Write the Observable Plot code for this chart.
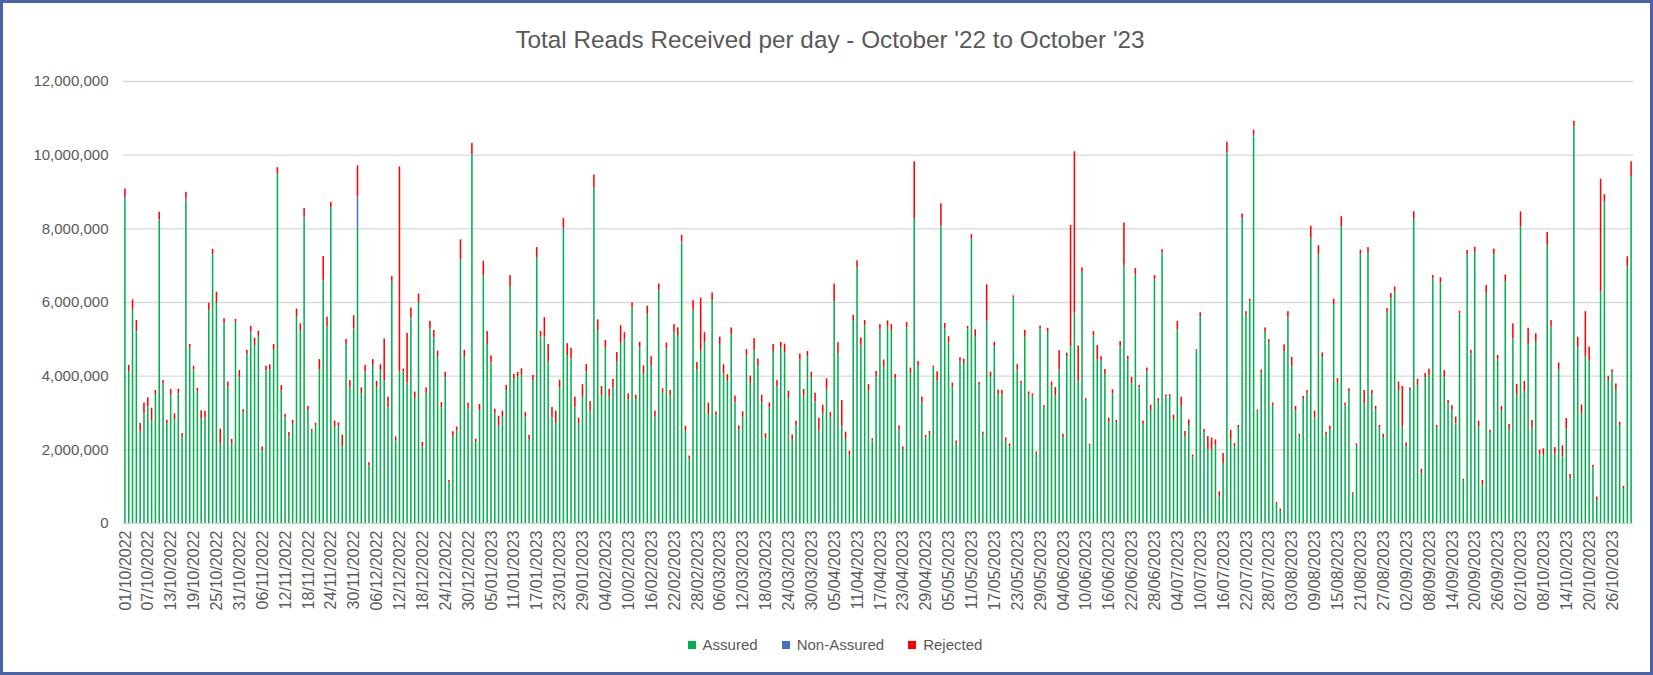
<!DOCTYPE html>
<html>
<head>
<meta charset="utf-8">
<script src="https://cdn.jsdelivr.net/npm/d3@7"></script>
<script src="https://cdn.jsdelivr.net/npm/@observablehq/plot@0.6"></script>
<style>
  html, body { margin: 0; padding: 0; background: #fff; }
  #frame { position: relative; width: 1653px; height: 675px; overflow: hidden; background: #fff;
           font-family: "Liberation Sans", Arial, sans-serif; color: #595959; }
  #title { position: absolute; top: 25px; left: 0; width: 1660px; text-align: center; font-size: 24.3px; line-height: 30px; }
  #chart { position: absolute; top: 60px; left: 0; }
  #legend { position: absolute; top: 636px; left: 0; width: 1670px; display: flex; justify-content: center; gap: 24px; font-size: 15px; line-height: 18px; }
  .item { display: flex; align-items: center; gap: 7px; }
  .sw { width: 8px; height: 8px; display: inline-block; }
  #border { position: absolute; inset: 0; border: 3px solid #4B62A9; pointer-events: none; }
</style>
</head>
<body>
<div id="frame">
  <div id="title">Total Reads Received per day - October '22 to October '23</div>
  <div id="chart"></div>
  <div id="legend"></div>
  <div id="border"></div>
</div>
<script>
// Series names and colours
const seriesNames = ["Assured", "Non-Assured", "Rejected"];
const seriesColors = ["#00B050", "#4472C4", "#FF0000"];

// Daily categories: 01/10/2022 .. 31/10/2023
const firstDay = new Date(Date.UTC(2022, 9, 1));
const endDay = new Date(Date.UTC(2023, 10, 1));
const fmtDay = d3.utcFormat("%d/%m/%Y");
const categories = d3.utcDay.range(firstDay, endDay).map(fmtDay);
// Tick labels: every 6th day
const tickLabels = categories.filter((d, i) => i % 6 === 0);
// Y ticks
const yTicks = [0, 2e6, 4e6, 6e6, 8e6, 10e6, 12e6];

// Values in millions of reads
const assured = [
8.80,4.11,5.80,5.17,2.48,2.98,3.16,2.78,3.50,8.22,
3.79,2.71,3.48,2.82,3.52,2.33,8.74,4.77,4.17,3.57,
2.83,2.87,5.78,7.30,5.98,2.15,5.42,3.70,2.15,5.46,
3.97,3.00,4.59,5.15,4.83,5.08,1.97,4.15,4.17,4.70,
9.48,3.59,2.87,2.35,2.69,5.60,5.22,8.24,3.05,2.48,
2.66,4.17,6.59,5.33,8.58,2.60,2.64,2.08,4.86,3.68,
5.28,7.99,3.52,4.11,1.56,4.29,3.68,4.15,3.88,3.14,
6.57,2.24,4.11,4.11,3.81,5.53,3.39,6.00,2.08,3.52,
5.28,5.04,4.52,3.14,3.96,1.11,2.35,2.51,7.15,4.50,
3.12,10.01,2.19,3.07,6.73,4.86,4.36,2.98,2.64,2.89,
3.61,6.41,3.91,3.99,4.02,2.89,2.28,3.88,7.22,5.06,
5.06,4.38,2.86,2.71,3.68,7.96,4.56,4.47,3.14,2.71,
3.43,4.11,3.05,9.10,5.24,3.46,4.76,3.43,3.68,4.38,
4.88,5.00,3.36,5.85,3.36,4.77,4.05,5.67,4.27,2.89,
6.32,3.54,4.74,3.46,5.19,5.08,7.59,2.50,1.74,5.78,
4.18,4.68,4.92,2.96,6.05,2.93,4.86,4.06,3.86,5.13,
3.28,2.53,2.89,4.56,3.79,4.70,4.26,3.28,2.30,3.14,
4.67,3.72,4.76,4.63,3.39,2.26,2.64,4.44,3.45,4.53,
3.96,3.30,2.51,2.98,3.63,2.87,6.02,4.61,2.62,2.28,
1.85,5.51,6.95,4.82,5.37,3.59,2.24,3.99,5.26,4.24,
5.35,5.24,3.93,2.53,1.99,5.31,4.06,8.28,4.26,3.28,
2.32,2.42,4.22,3.88,8.08,5.28,4.90,3.70,2.15,4.40,
4.32,5.28,7.68,5.07,3.77,2.42,5.49,3.99,4.80,3.48,
3.50,2.23,2.09,6.12,4.17,3.79,5.06,3.48,3.46,1.88,
5.28,3.14,5.19,3.73,3.46,4.17,2.33,4.53,4.79,5.71,
3.84,6.82,3.34,2.10,5.09,4.44,4.42,4.05,2.75,3.52,
2.74,4.80,7.00,4.44,3.79,6.75,3.68,2.69,4.11,3.07,
6.61,3.30,7.29,3.43,3.45,2.80,5.26,3.18,2.35,2.66,
1.81,4.65,5.62,2.47,2.01,1.99,2.12,0.72,1.63,10.01,
2.28,2.08,2.59,8.28,5.64,6.02,10.49,3.03,4.09,5.19,
4.90,3.19,0.52,0.32,4.67,5.58,4.27,3.05,2.35,3.36,
3.52,7.75,2.87,7.30,4.50,2.39,2.53,5.94,3.81,8.06,
3.19,3.57,0.77,2.10,7.31,3.25,7.33,3.50,3.09,2.59,
2.33,5.73,6.10,6.28,3.61,2.62,2.09,3.61,8.26,3.75,
1.35,3.96,4.02,6.64,2.59,6.53,3.97,3.25,3.05,2.71,
5.69,1.15,7.30,4.61,7.36,2.62,1.02,6.25,2.47,7.30,
4.44,3.05,6.57,2.53,5.01,3.48,8.05,3.58,4.86,2.56,
4.92,1.88,1.85,7.54,5.33,1.88,4.18,1.81,2.56,1.22,
10.76,4.77,2.98,4.53,4.40,1.51,0.63,6.28,8.69,3.86,
4.08,3.61,2.66,0.95,6.97,9.42
];

const nonAssured = [
0.05,0,0,0.04,0,0,0,0,0,0.03,
0,0,0,0,0,0,0.07,0,0,0,
0,0,0,0,0,0,0,0,0,0,
0,0,0,0.05,0,0,0,0,0,0,
0,0,0,0,0,0,0,0.09,0,0,
0,0,0,0,0,0,0,0,0,0,
0,0.88,0,0,0,0,0,0,0,0,
0,0,0,0,0,0.05,0,0,0,0,
0,0,0,0,0,0,0,0,0,0,
0,0,0,0,0,0,0,0,0,0,
0,0,0,0,0,0,0,0,0,0,
0,0,0,0,0,0.05,0,0,0,0,
0,0,0,0,0,0,0,0,0,0,
0,0,0,0,0,0,0,0,0,0,
0,0,0,0,0,0,0.05,0,0,0,
0,0,0,0,0,0,0,0,0,0,
0,0,0,0,0,0,0,0,0,0,
0,0,0,0,0,0,0,0,0,0,
0,0,0,0,0,0,0,0,0,0,
0,0,0,0,0,0,0,0,0,0,
0,0,0,0,0,0,0,0,0,0,
0,0,0,0,0,0,0,0,0,0,
0,0,0.05,0,0,0,0,0,0,0,
0,0,0,0,0,0,0,0,0,0,
0,0,0,0,0,0,0,0,0,0,
0,0,0,0,0,0,0,0,0,0,
0,0,0,0,0,0,0,0,0,0,
0,0,0.05,0,0,0,0,0,0,0,
0,0.05,0,0,0,0,0,0,0,0.05,
0,0,0,0,0,0,0.05,0,0,0,
0,0,0,0,0,0,0,0,0,0,
0,0,0,0,0,0,0,0,0,0,
0,0,0,0,0,0,0,0,0,0,
0,0,0,0,0,0,0,0,0,0,
0,0,0,0,0,0,0,0,0,0,
0,0,0,0,0,0,0,0,0,0,
0,0,0,0,0,0,0,0,0,0,
0,0,0,0,0,0,0,0,0,0,
0,0,0,0,0,0,0,0,0.05,0,
0,0,0,0,0,0
];

const rejected = [
0.23,0.18,0.27,0.30,0.24,0.29,0.25,0.35,0.11,0.20,
0.09,0.09,0.16,0.16,0.12,0.11,0.18,0.09,0.10,0.10,
0.23,0.18,0.20,0.14,0.30,0.41,0.14,0.14,0.13,0.08,
0.18,0.09,0.11,0.15,0.20,0.14,0.11,0.12,0.14,0.16,
0.18,0.15,0.09,0.12,0.11,0.22,0.20,0.22,0.13,0.07,
0.06,0.28,0.66,0.27,0.14,0.18,0.09,0.32,0.14,0.20,
0.36,0.84,0.16,0.18,0.09,0.16,0.18,0.16,1.13,0.29,
0.13,0.11,5.57,0.08,1.35,0.27,0.18,0.23,0.12,0.16,
0.21,0.20,0.16,0.14,0.14,0.06,0.14,0.11,0.55,0.20,
0.15,0.31,0.10,0.16,0.39,0.35,0.19,0.12,0.27,0.16,
0.14,0.32,0.14,0.11,0.18,0.12,0.11,0.14,0.27,0.15,
0.53,0.48,0.29,0.34,0.21,0.27,0.32,0.29,0.29,0.15,
0.34,0.21,0.26,0.36,0.29,0.26,0.21,0.21,0.23,0.26,
0.49,0.18,0.16,0.14,0.12,0.15,0.23,0.23,0.26,0.16,
0.18,0.12,0.16,0.15,0.21,0.23,0.18,0.14,0.09,0.27,
0.19,1.44,0.26,0.31,0.21,0.10,0.20,0.25,0.18,0.18,
0.18,0.12,0.14,0.16,0.21,0.32,0.21,0.20,0.14,0.13,
0.19,0.16,0.16,0.24,0.20,0.14,0.14,0.16,0.19,0.14,
0.14,0.24,0.35,0.23,0.30,0.14,0.48,0.30,0.72,0.20,
0.11,0.14,0.18,0.22,0.14,0.18,0.06,0.14,0.14,0.20,
0.15,0.16,0.12,0.12,0.09,0.15,0.16,1.54,0.14,0.15,
0.07,0.08,0.05,0.24,0.60,0.15,0.17,0.11,0.09,0.10,
0.14,0.07,0.11,0.19,0.06,0.06,0.99,0.12,0.12,0.14,
0.11,0.09,0.07,0.06,0.14,0.07,0.18,0.09,0.06,0.06,
0.08,0.06,0.11,0.11,0.23,0.52,0.09,0.09,3.30,4.38,
0.98,0.12,0.05,0.05,0.12,0.39,0.11,0.13,0.11,0.11,
0.06,0.14,1.16,0.10,0.18,0.17,0.07,0.09,0.11,0.14,
0.12,0.09,0.09,0.06,0.05,0.14,0.23,0.25,0.15,0.15,
0.05,0.02,0.10,0.08,0.35,0.33,0.15,0.14,0.27,0.29,
0.25,0.09,0.07,0.12,0.11,0.07,0.14,0.05,0.08,0.12,
0.09,0.08,0.05,0.07,0.18,0.17,0.24,0.13,0.07,0.09,
0.09,0.32,0.18,0.24,0.13,0.09,0.11,0.15,0.12,0.27,
0.08,0.09,0.06,0.06,0.11,0.36,0.16,0.11,0.09,0.07,
0.09,0.11,0.14,0.14,0.23,1.10,0.10,0.07,0.20,0.16,
0.12,0.11,0.17,0.09,0.07,0.14,0.18,0.09,0.15,0.18,
0.07,0.05,0.11,0.09,0.14,0.16,0.15,0.21,0.06,0.15,
0.12,0.13,0.18,0.16,0.41,0.30,0.41,0.28,0.44,0.24,
0.23,0.11,0.18,0.36,0.18,0.18,0.18,0.30,0.29,0.11,
0.16,0.29,0.24,1.22,0.39,0.07,0.09,3.07,0.19,0.14,
0.09,0.18,0.09,0.06,0.27,0.40
];

// Long table for stacking
const seriesValues = [assured, nonAssured, rejected];
const table = [];
categories.forEach((date, i) => {
  seriesNames.forEach((s, k) => {
    table.push({date, series: s, value: (seriesValues[k][i] || 0) * 1e6});
  });
});

const chart = Plot.plot({
  width: 1653,
  height: 570,
  marginTop: 21,
  marginBottom: 107,
  marginLeft: 123,
  marginRight: 20,
  style: {fontFamily: "'Liberation Sans', Arial, sans-serif", color: "#595959", background: "transparent", overflow: "visible"},
  x: {type: "band", domain: categories, paddingInner: 0.6, paddingOuter: 0.3, axis: null, label: null},
  y: {domain: [0, 12e6], axis: null, label: null},
  color: {domain: seriesNames, range: seriesColors},
  marks: [
    Plot.gridY(yTicks, {stroke: "#D9D9D9", strokeOpacity: 1, strokeWidth: 1.3}),
    Plot.barY(table, {x: "date", y: "value", fill: "series", order: seriesNames}),
    Plot.axisY(yTicks, {tickSize: 0, tickPadding: 15, tickFormat: d3.format(","), fontSize: 15, label: null}),
    Plot.axisX(tickLabels, {tickSize: 0, tickPadding: 7, tickRotate: -90, fontSize: 16, label: null})
  ]
});
document.getElementById("chart").appendChild(chart);

// Legend
const legend = document.getElementById("legend");
seriesNames.forEach((s, k) => {
  const item = document.createElement("div");
  item.className = "item";
  const sw = document.createElement("span");
  sw.className = "sw";
  sw.style.background = seriesColors[k];
  const label = document.createElement("span");
  label.textContent = s;
  item.appendChild(sw);
  item.appendChild(label);
  legend.appendChild(item);
});
</script>
</body>
</html>
